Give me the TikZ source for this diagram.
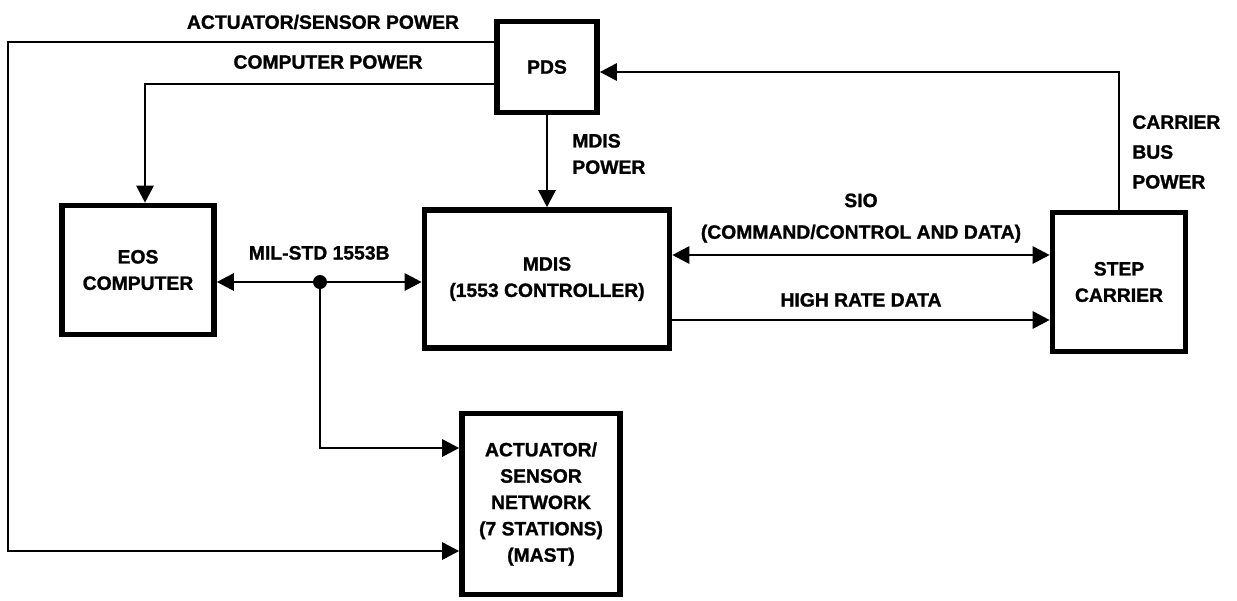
\documentclass[tikz,border=0pt]{standalone}
\usepackage{fontspec}
\setmainfont{Liberation Sans}[BoldFeatures={FakeBold=1.2}]
\usetikzlibrary{arrows.meta}
\tikzset{
  blk/.style={draw,line width=3.2pt,align=center,inner sep=0pt},
  wire/.style={line width=1.6pt},
  tip/.style={-{Triangle[length=0.34cm,width=0.34cm]}},
  tips/.style={{Triangle[length=0.34cm,width=0.34cm]}-{Triangle[length=0.34cm,width=0.34cm]}},
  lbl/.style={align=left,inner sep=0pt}
}

\begin{document}
\begin{tikzpicture}[x=0.02cm,y=-0.02cm,every node/.style={font=\bfseries\fontsize{11}{15}\selectfont}]
  \useasboundingbox (0,0) rectangle (1237,600);
  % blocks
  \node[blk,minimum width=2cm,minimum height=1.82cm] (pds) at (547,67) {PDS};
  \node[blk,minimum width=3.04cm,minimum height=2.58cm] (eos) at (138,270) {EOS\\COMPUTER};
  \node[blk,minimum width=4.9cm,minimum height=2.76cm] (mdis) at (547,279) {MDIS\\(1553 CONTROLLER)};
  \node[blk,minimum width=2.66cm,minimum height=2.78cm] (stepc) at (1119,282) {STEP\\CARRIER};
  \node[blk,minimum width=3.16cm,minimum height=3.62cm] (asn) at (541,504) {ACTUATOR/\\SENSOR\\NETWORK\\(7 STATIONS)\\(MAST)};
  % bends
  \coordinate (asp) at (8,42);
  \coordinate (asb) at (8,551);
  \coordinate (cpw) at (145,84);
  \coordinate (cbp) at (1119,72);
  \coordinate (bus) at (320,282);
  \coordinate (brk) at (320,448);
  \coordinate (sio) at (0,255);
  \coordinate (hrd) at (0,320);
  % power
  \draw[wire,tip] (pds.west |- asp) -- (asp) -- (asb) -- (asn.west |- asb);
  \node at (323,22) {ACTUATOR/SENSOR POWER};
  \draw[wire,tip] (pds.west |- cpw) -- (cpw) -- (eos.north -| cpw);
  \node at (328,62) {COMPUTER POWER};
  \draw[wire,tip] (pds.south) -- (mdis.north);
  \node[lbl,anchor=west] at (572,154) {MDIS\\POWER};
  \draw[wire,tip] (stepc.north) -- (stepc.north |- cbp) -- (pds.east |- cbp);
  \node[lbl,anchor=west,font=\bfseries\fontsize{11}{17}\selectfont] at (1132,152) {CARRIER\\BUS\\POWER};
  % data
  \draw[wire,tips] (eos.east |- bus) -- (mdis.west |- bus) node[midway,above=0.3cm]{MIL-STD 1553B};
  \fill (bus) circle (7);
  \draw[wire,tip] (bus) -- (brk) -- (asn.west |- brk);
  \draw[wire,tips] (mdis.east |- sio) -- (stepc.west |- sio)
    node[midway,above=0.1cm,align=center,font=\bfseries\fontsize{11}{18}\selectfont]{SIO\\(COMMAND/CONTROL AND DATA)};
  \draw[wire,tip] (mdis.east |- hrd) -- (stepc.west |- hrd) node[midway,above=0.12cm]{HIGH RATE DATA};
\end{tikzpicture}
\end{document}
